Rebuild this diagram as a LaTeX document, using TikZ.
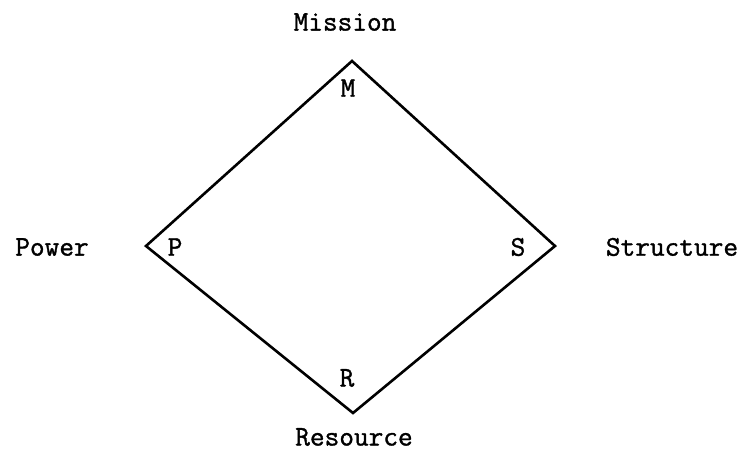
\documentclass[tikz,border=0pt]{standalone}
\usepackage{fontspec}
\setmonofont{Latin Modern Mono}[FakeBold=1.2]
\tikzset{
  lbl/.style={font=\ttfamily\fontsize{28.5}{28.5}\selectfont, inner sep=0pt, anchor=center},
  edge/.style={line width=2.6pt, line join=miter, black}
}
\begin{document}
\begin{tikzpicture}[x=1pt,y=-1pt]
\useasboundingbox (0,0) rectangle (743,452);
\coordinate (t) at (352,61);
\coordinate (l) at (146,246);
\coordinate (r) at (555,246);
\coordinate (b) at (353,413);
\draw[edge] (t) -- (r) -- (b) -- (l) -- cycle;
\node[lbl] (mission) at (345,22) {Mission};
\node[lbl] (power) at (52,247) {Power};
\node[lbl] (structure) at (672,247) {Structure};
\node[lbl] (resource) at (354,437) {Resource};
\node[lbl] (m) at (348,88) {M};
\node[lbl] (p) at (175,247) {P};
\node[lbl] (s) at (518,247) {S};
\node[lbl] (rr) at (347,378) {R};
\end{tikzpicture}
\end{document}
